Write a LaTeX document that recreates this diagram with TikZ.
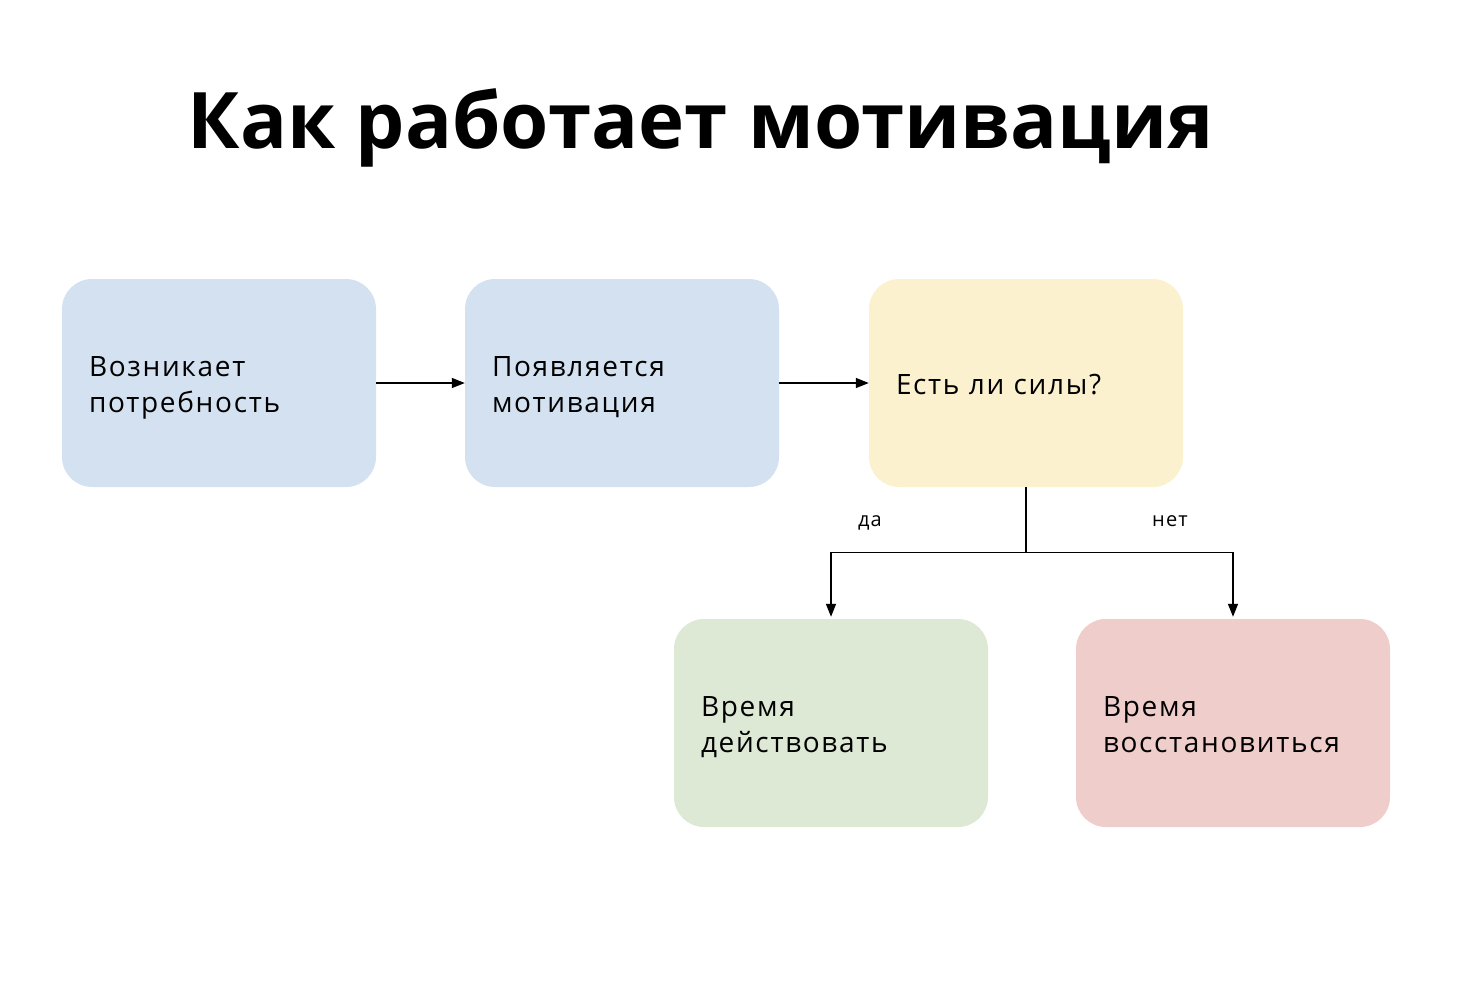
\documentclass[tikz,border=0pt]{standalone}
\usepackage{fontspec}
\setmainfont{Open Sans}
\usetikzlibrary{arrows.meta}
\definecolor{cblue}{HTML}{D4E1F0}
\definecolor{cyellow}{HTML}{FCF1CF}
\definecolor{cgreen}{HTML}{DDE8D5}
\definecolor{cred}{HTML}{EECDCB}
\newfontfamily\bodyfont{Open Sans}[LetterSpace=6]
\newcommand\mystrut{\rule[-6.8pt]{0pt}{36pt}}
\tikzset{
  box/.style={rectangle, rounded corners=30pt, minimum width=314pt, minimum height=208pt,
    text width=260pt, inner xsep=27pt, inner ysep=0pt, align=left,
    font=\bodyfont\fontsize{28}{36}\selectfont},
  conn/.style={line width=1.4pt},
  arr/.style={conn, -{Triangle[length=13pt,width=10pt]}},
  lbl/.style={font=\bodyfont\fontsize{20}{22}\selectfont, anchor=base}
}
\begin{document}
\begin{tikzpicture}[x=1pt,y=-1pt]
\useasboundingbox (0,0) rectangle (1460,994);
\node[anchor=base, font=\fontsize{78}{90}\selectfont\bfseries] (title) at (701,148) {Как работает мотивация};
\node[box, fill=cblue] (a) at (219,383) {\mystrut Возникает\\\mystrut потребность};
\node[box, fill=cblue] (b) at (622,383) {\mystrut Появляется\\\mystrut мотивация};
\node[box, fill=cyellow] (c) at (1026,383) {\mystrut Есть ли силы?};
\node[box, fill=cgreen] (d) at (831,723) {\mystrut Время\\\mystrut действовать};
\node[box, fill=cred] (e) at (1233,723) {\mystrut Время\\\mystrut восстановиться};
\draw[arr] (a.east) -- (b.west);
\draw[arr] (b.east) -- (c.west);
\draw[conn] (c.south) -- ++(0,65) coordinate (split);
\draw[arr, shorten >=2pt] (split) -| (d.north);
\draw[arr, shorten >=2pt] (split) -| (e.north);
\node[lbl] (yes) at (870,526) {да};
\node[lbl] (no) at (1170,526) {нет};
\end{tikzpicture}
\end{document}
